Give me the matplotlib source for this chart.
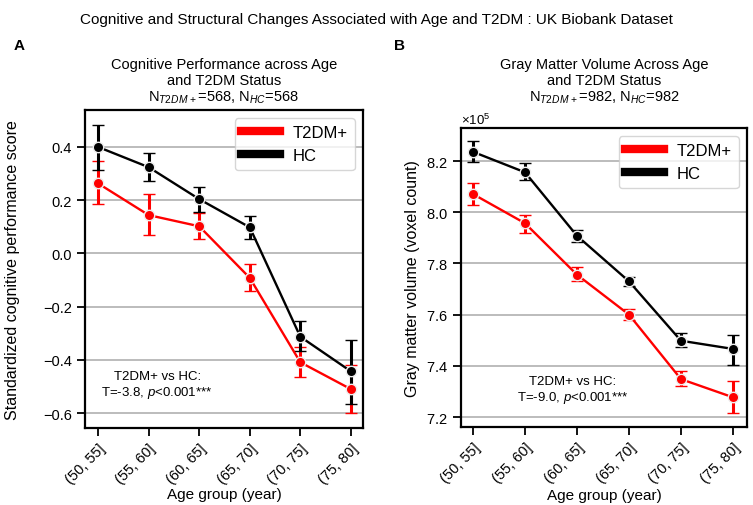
import matplotlib.pyplot as plt
import numpy as np

plt.rcParams['font.family'] = ['Liberation Sans', 'DejaVu Sans']
plt.rcParams['mathtext.fontset'] = 'custom'
plt.rcParams['mathtext.rm'] = 'Liberation Sans'
plt.rcParams['mathtext.it'] = 'Liberation Sans:italic'

age_groups = ['(50, 55]', '(55, 60]', '(60, 65]', '(65, 70]', '(70, 75]', '(75, 80]']

# Panel A: standardized cognitive score (mean, CI low, CI high)
cog_hc = [0.400, 0.324, 0.204, 0.098, -0.313, -0.443]
cog_hc_lo = [0.313, 0.273, 0.157, 0.054, -0.366, -0.565]
cog_hc_hi = [0.484, 0.376, 0.249, 0.142, -0.255, -0.326]
cog_t2 = [0.263, 0.144, 0.102, -0.092, -0.409, -0.510]
cog_t2_lo = [0.186, 0.069, 0.054, -0.140, -0.466, -0.600]
cog_t2_hi = [0.346, 0.223, 0.152, -0.040, -0.353, -0.420]

# Panel B: gray matter volume (voxel count)
gmv_hc = [823600, 815600, 790800, 773000, 749800, 746600]
gmv_hc_lo = [819500, 812700, 788500, 771100, 747500, 740400]
gmv_hc_hi = [827700, 819100, 793200, 774800, 752700, 752000]
gmv_t2 = [807100, 795700, 775600, 760000, 734800, 727700]
gmv_t2_lo = [802900, 791900, 773000, 758000, 732200, 721600]
gmv_t2_hi = [811400, 798900, 778500, 762200, 737800, 734200]

RED = '#ff0000'
BLACK = '#000000'


def draw_series(ax, x, y, lo, hi, color, label):
    y = np.array(y)
    yerr = [y - np.array(lo), np.array(hi) - y]
    ax.errorbar(x, y, yerr=yerr, color=color, lw=1.7, elinewidth=2.2,
                capsize=4.5, capthick=2.2, marker='o', ms=7.5,
                mec='#eeeeee', mew=1, label=label, zorder=3)


fig = plt.figure(figsize=(7.53, 5.06), dpi=100)
W, H = 753, 506
axA = fig.add_axes([85 / W, 1 - 429 / H, 278 / W, 318 / H])
axB = fig.add_axes([461 / W, 1 - 428 / H, 286 / W, 299 / H])

x = np.arange(len(age_groups))

for ax in (axA, axB):
    ax.yaxis.grid(True, color='#b0b0b0', lw=1.2, zorder=0)
    ax.set_axisbelow(True)
    for s in ax.spines.values():
        s.set_linewidth(1.6)
    ax.tick_params(length=6, width=1.3, labelsize=10.5)
    ax.set_xticks(x)
    ax.set_xticklabels(age_groups, rotation=45, ha='right', rotation_mode='anchor')
    ax.set_xlabel('Age group (year)', fontsize=11)

axA.xaxis.set_label_coords(0.5, -0.185)
axB.xaxis.set_label_coords(0.5, -0.203)

draw_series(axA, x, cog_t2, cog_t2_lo, cog_t2_hi, RED, 'T2DM+')
draw_series(axA, x, cog_hc, cog_hc_lo, cog_hc_hi, BLACK, 'HC')
axA.set_xlim(-0.26, 5.24)
axA.set_ylim(-0.656, 0.539)
axA.set_yticks([-0.6, -0.4, -0.2, 0.0, 0.2, 0.4])
axA.set_ylabel('Standardized cognitive performance score', fontsize=11.5)
axA.yaxis.set_label_coords(-0.235, 0.5)
axA.text(0.26, 0.135, 'T2DM+ vs HC:\nT=-3.8, $p$<0.001***', transform=axA.transAxes,
         ha='center', va='center', fontsize=9.5)

draw_series(axB, x, gmv_t2, gmv_t2_lo, gmv_t2_hi, RED, 'T2DM+')
draw_series(axB, x, gmv_hc, gmv_hc_lo, gmv_hc_hi, BLACK, 'HC')
axB.set_xlim(-0.23, 5.27)
axB.set_ylim(716100, 832900)
axB.set_yticks([720000, 740000, 760000, 780000, 800000, 820000])
axB.ticklabel_format(axis='y', style='sci', scilimits=(0, 0), useMathText=True)
axB.yaxis.get_offset_text().set_fontsize(9.5)
axB.set_ylabel('Gray matter volume (voxel count)', fontsize=11.5)
axB.yaxis.set_label_coords(-0.145, 0.5)
axB.text(0.39, 0.125, 'T2DM+ vs HC:\nT=-9.0, $p$<0.001***', transform=axB.transAxes,
         ha='center', va='center', fontsize=9.5)

for ax in (axA, axB):
    h, l = ax.get_legend_handles_labels()
    h = [plt.Line2D([], [], color=hh[0].get_color(), lw=6) for hh in h]
    ax.legend(h, l, loc='upper right', fontsize=12, handlelength=2.3)

# subplot titles placed at the same height above both panels
fig.text(224 / W, 1 - 106 / H, 'Cognitive Performance across Age\nand T2DM Status\n'
         r'N$_{T2DM\,+}$=568, N$_{HC}$=568', fontsize=10.5, linespacing=1.15,
         ha='center', va='bottom', multialignment='center')
fig.text(604 / W, 1 - 106 / H, 'Gray Matter Volume Across Age\nand T2DM Status\n'
         r'N$_{T2DM\,+}$=982, N$_{HC}$=982', fontsize=10.5, linespacing=1.15,
         ha='center', va='bottom', multialignment='center')

fig.text(0.5, 1 - 24 / H,
         'Cognitive and Structural Changes Associated with Age and T2DM : UK Biobank Dataset',
         fontsize=11, ha='center', va='baseline')
fig.text(14 / W, 1 - 50 / H, 'A', fontsize=11, fontweight='bold', va='baseline')
fig.text(394 / W, 1 - 50 / H, 'B', fontsize=11, fontweight='bold', va='baseline')

fig.savefig('out.png', dpi=100)
